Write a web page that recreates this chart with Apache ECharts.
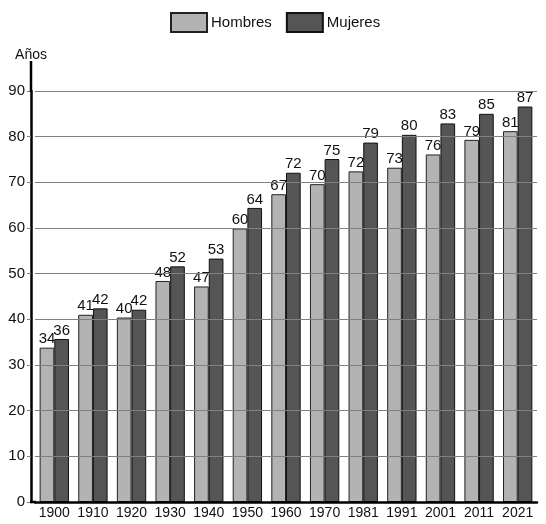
<!DOCTYPE html>
<html>
<head>
<meta charset="utf-8">
<script src="https://cdn.jsdelivr.net/npm/echarts@6/dist/echarts.min.js"></script>
<style>
html,body{margin:0;padding:0;background:#fff;}
#c{width:546px;height:524px;}
</style>
</head>
<body>
<div id="c"></div>
<script>
var categories = ['1900','1910','1920','1930','1940','1950','1960','1970','1981','1991','2001','2011','2021'];
var hombres = [33.8, 41.0, 40.4, 48.4, 47.2, 59.9, 67.4, 69.6, 72.4, 73.2, 76.1, 79.3, 81.2];
var mujeres = [35.7, 42.4, 42.1, 51.6, 53.3, 64.4, 72.1, 75.1, 78.7, 80.4, 82.9, 85.0, 86.6];
var yTicks = [0, 10, 20, 30, 40, 50, 60, 70, 80, 90];

var FONT = '"Liberation Sans", Arial, Helvetica, sans-serif';
var chart = echarts.init(document.getElementById('c'), null, {renderer: 'canvas'});

var labelOpt = {
  show: true,
  position: 'top',
  distance: 1,
  color: '#111',
  fontSize: 15,
  fontFamily: FONT,
  formatter: function (p) { return Math.round(p.value); }
};

chart.setOption({
  animation: false,
  backgroundColor: '#fff',
  textStyle: {fontFamily: FONT},
  legend: {
    top: 7,
    left: 165,
    itemWidth: 36,
    itemHeight: 19,
    itemGap: 14,
    icon: 'rect',
    textStyle: {fontSize: 15, color: '#111', fontFamily: FONT, padding: [0, 0, 0, -1]},
    data: ['Hombres', 'Mujeres']
  },
  grid: {left: 35, right: 9, top: 91, bottom: 22, containLabel: false},
  xAxis: {
    type: 'category',
    data: categories,
    z: 6,
    axisLine: {show: true, lineStyle: {color: '#000', width: 2.5}},
    axisTick: {show: false},
    axisLabel: {interval: 0, color: '#111', fontSize: 14, fontFamily: FONT, margin: 4}
  },
  yAxis: {
    type: 'value',
    min: yTicks[0],
    max: yTicks[yTicks.length - 1],
    interval: 10,
    offset: 4,
    z: 5,
    name: 'Años',
    nameLocation: 'end',
    nameGap: 29,
    nameTextStyle: {color: '#111', fontSize: 14, fontFamily: FONT, align: 'center'},
    axisLine: {show: true, lineStyle: {color: '#000', width: 2.5}},
    axisTick: {show: true, length: 4, lineStyle: {color: '#808080', width: 1}},
    axisLabel: {color: '#111', fontSize: 15, fontFamily: FONT, margin: 6},
    splitLine: {show: true, lineStyle: {color: '#808080', width: 1}}
  },
  graphic: [
    {type: 'line', z: 100, shape: {x1: 31, y1: 61, x2: 31, y2: 92}, style: {stroke: '#000', lineWidth: 2.5}},
    {type: 'line', z: 100, shape: {x1: 30, y1: 502, x2: 36, y2: 502}, style: {stroke: '#000', lineWidth: 2.5}}
  ],
  series: [
    {
      name: 'Hombres',
      type: 'bar',
      data: hombres,
      barGap: '0%',
      barCategoryGap: '24%',
      z: 2,
      itemStyle: {color: '#b3b3b3', borderColor: '#222', borderWidth: 1},
      label: labelOpt
    },
    {
      name: 'Mujeres',
      type: 'bar',
      data: mujeres,
      barGap: '0%',
      barCategoryGap: '24%',
      z: 2,
      itemStyle: {color: '#555555', borderColor: '#111', borderWidth: 1},
      label: labelOpt
    }
  ]
});
</script>
</body>
</html>
